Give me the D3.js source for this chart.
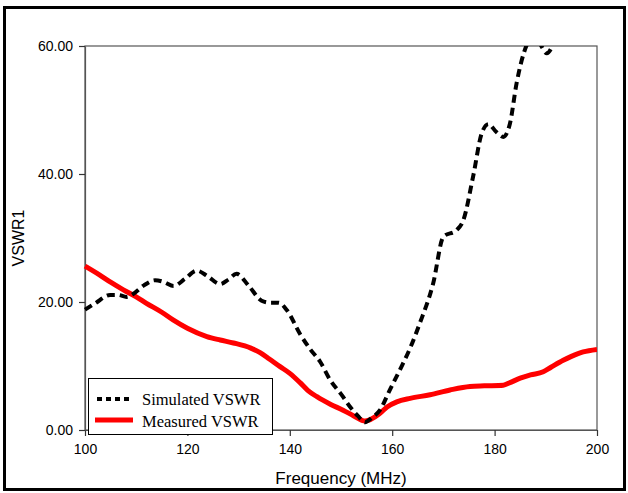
<!DOCTYPE html>
<html><head><meta charset="utf-8">
<script src="https://cdn.jsdelivr.net/npm/d3@7"></script>
<style>body{margin:0;background:#fff}svg{display:block}</style>
</head><body>
<script>
const xTicks = [100, 120, 140, 160, 180, 200];
const yTicks = [0, 20, 40, 60];
const simFreq = [100, 102, 104.9, 106.5, 108.1, 109.4, 111.5, 113.7, 115.5, 117.3, 119.5, 121.8, 124, 126.4, 128, 129.6, 132, 134.5, 136, 137.8, 139.4, 142, 144, 145.9, 147.9, 150.2, 151.8, 153.3, 154.7, 156, 157.6, 159.5, 161.5, 163.5, 165.4, 168, 170, 172.6, 173.9, 175.8, 177.5, 178.8, 180.3, 181.7, 183, 184.3, 186.3, 187.5, 188.5, 189.2, 190.2, 191.3];
const simVSWR = [18.8, 19.8, 21.1, 21.1, 20.8, 21.25, 22.6, 23.4, 23.1, 22.5, 23.6, 24.9, 24.0, 22.8, 23.5, 24.4, 22.5, 20.2, 19.9, 19.9, 18.75, 15.0, 12.6, 10.7, 7.8, 5.4, 3.6, 2.2, 1.2, 1.9, 3.1, 6.2, 9.4, 12.8, 16.7, 22.9, 30.2, 31.25, 32.8, 39.6, 46.4, 47.8, 46.6, 45.8, 47.9, 54.2, 60.2, 61.5, 61.0, 59.9, 58.85, 60.0];
const measFreq = [100, 102.9, 105, 107.5, 110, 112, 115, 117.2, 120, 123.8, 126.4, 129, 132.4, 134.2, 136, 138.1, 140, 142, 143.5, 145.3, 148, 150.4, 152.5, 154.7, 157.6, 159, 160.9, 163.5, 167.4, 171.3, 175.2, 178, 181.7, 183, 185, 187, 189.5, 191, 193.4, 195, 197.3, 200];
const measVSWR = [25.6, 24.2, 23.1, 21.9, 20.8, 19.8, 18.4, 17.2, 15.9, 14.6, 14.06, 13.6, 12.8, 12.1, 11.1, 9.9, 8.85, 7.4, 6.2, 5.2, 4.0, 3.1, 2.2, 1.4, 2.6, 3.6, 4.4, 4.95, 5.5, 6.25, 6.8, 6.9, 7.0, 7.4, 8.1, 8.6, 9.1, 9.8, 10.9, 11.5, 12.2, 12.6];
const legendLabels = ["Simulated VSWR", "Measured VSWR"];

const W = 628, H = 493;
const m = {l: 85, r: 31, t: 46, b: 63};
const svg = d3.select("body").append("svg").attr("width", W).attr("height", H);

svg.append("rect").attr("x", 4.5).attr("y", 7.5).attr("width", 620).attr("height", 482)
  .attr("fill", "#fff").attr("stroke", "#000").attr("stroke-width", 3);

const x = d3.scaleLinear().domain([100, 200]).range([m.l, W - m.r]);
const y = d3.scaleLinear().domain([0, 60]).range([H - m.b, m.t]);

svg.append("defs").append("clipPath").attr("id", "clip")
  .append("rect").attr("x", m.l - 3).attr("y", m.t).attr("width", W - m.r - m.l + 3).attr("height", H - m.b - m.t + 3);

// frame
svg.append("rect").attr("x", m.l).attr("y", m.t).attr("width", W - m.r - m.l).attr("height", H - m.b - m.t)
  .attr("fill", "none").attr("stroke", "#555").attr("stroke-width", 1.2);

const xAxis = svg.append("g").attr("transform", `translate(0,${H - m.b})`)
  .call(d3.axisBottom(x).tickValues(xTicks).tickSize(6).tickSizeOuter(0).tickPadding(8).tickFormat(d3.format("d")));
const yAxis = svg.append("g").attr("transform", `translate(${m.l},0)`)
  .call(d3.axisLeft(y).tickValues(yTicks).tickSize(6).tickSizeOuter(0).tickPadding(6).tickFormat(d3.format(".2f")));
[xAxis, yAxis].forEach(a => {
  a.select(".domain").attr("stroke", "#555").attr("stroke-width", 1.2);
  a.selectAll(".tick line").attr("stroke", "#333").attr("stroke-width", 1.2);
  a.selectAll("text").attr("font-family", "Liberation Sans, Arial, sans-serif").attr("font-size", 14).attr("fill", "#000");
});

const line = d3.line().x(d => x(d[0])).y(d => y(d[1])).curve(d3.curveMonotoneX);
const sim = simFreq.map((f, i) => [f, simVSWR[i]]);
const meas = measFreq.map((f, i) => [f, measVSWR[i]]);
const g = svg.append("g").attr("clip-path", "url(#clip)");
g.append("path").datum(meas).attr("d", line).attr("fill", "none")
  .attr("stroke", "#ff0000").attr("stroke-width", 5).attr("stroke-linejoin", "round");
g.append("path").datum(sim).attr("d", line).attr("fill", "none")
  .attr("stroke", "#000").attr("stroke-width", 4).attr("stroke-dasharray", "8,5");

// legend
const lg = svg.append("g");
lg.append("rect").attr("x", 88.5).attr("y", 378.5).attr("width", 184).attr("height", 56)
  .attr("fill", "#fff").attr("stroke", "#000").attr("stroke-width", 1);
lg.append("line").attr("x1", 97).attr("x2", 132).attr("y1", 399).attr("y2", 399)
  .attr("stroke", "#000").attr("stroke-width", 4).attr("stroke-dasharray", "5,4");
lg.append("line").attr("x1", 95).attr("x2", 133).attr("y1", 420).attr("y2", 420)
  .attr("stroke", "#ff0000").attr("stroke-width", 5);
legendLabels.forEach((t, i) => {
  lg.append("text").attr("x", 142).attr("y", 405 + i * 22).text(t)
    .attr("font-family", "Liberation Serif, Times New Roman, serif").attr("font-size", 16.5).attr("fill", "#000");
});

svg.append("text").attr("x", (m.l + W - m.r) / 2).attr("y", 484).attr("text-anchor", "middle")
  .attr("font-family", "Liberation Sans, Arial, sans-serif").attr("font-size", 17).text("Frequency (MHz)");
svg.append("text").attr("transform", `translate(24,${(m.t + H - m.b) / 2}) rotate(-90)`).attr("text-anchor", "middle")
  .attr("font-family", "Liberation Sans, Arial, sans-serif").attr("font-size", 16).text("VSWR1");
</script>
</body></html>
